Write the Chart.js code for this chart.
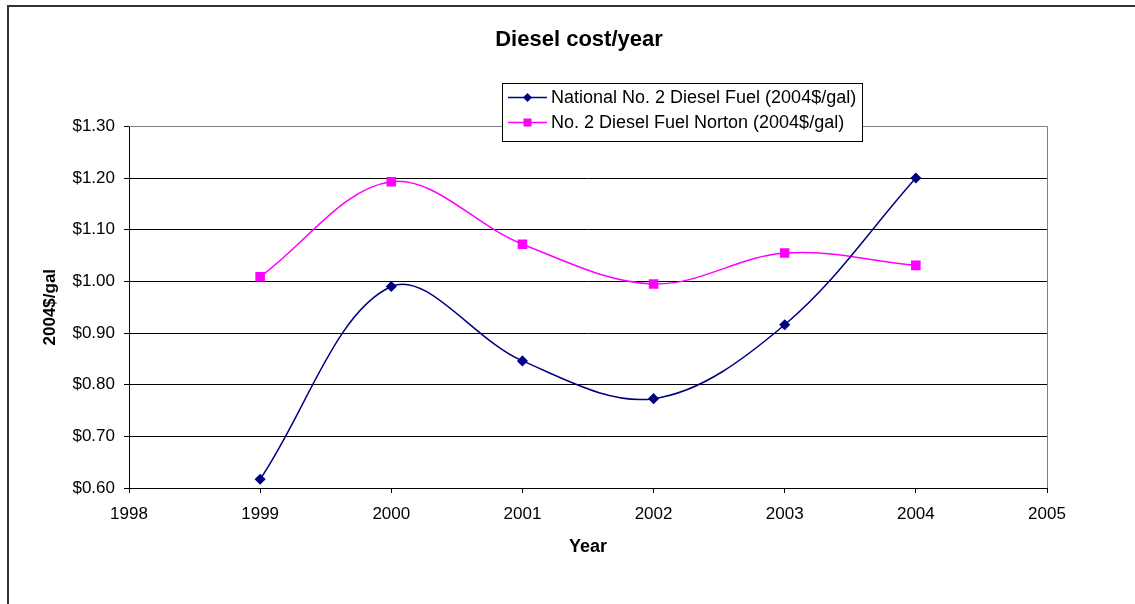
<!DOCTYPE html>
<html>
<head>
<meta charset="utf-8">
<script src="https://cdn.jsdelivr.net/npm/chart.js@4/dist/chart.umd.min.js"></script>
<style>
  html, body { margin: 0; padding: 0; background: #fff; }
  #wrap { width: 1135px; height: 604px; }
</style>
</head>
<body>
<div id="wrap"><canvas id="myChart" width="1135" height="604"></canvas></div>
<script>
// Данные графика
var years = [1999, 2000, 2001, 2002, 2003, 2004];
var nationalDiesel = [0.617, 0.990, 0.846, 0.773, 0.916, 1.200];
var nortonDiesel = [1.009, 1.193, 1.072, 0.995, 1.055, 1.031];
var seriesNames = ['National No. 2 Diesel Fuel (2004$/gal)', 'No. 2 Diesel Fuel Norton (2004$/gal)'];

function toPoints(values) {
  return years.map(function(year, i) { return { x: year, y: values[i] }; });
}

Chart.defaults.font.family = "'Liberation Sans', Arial, sans-serif";
Chart.defaults.color = '#000';

// Рамка вокруг области графика и рамка всей диаграммы
var framePlugin = {
  id: 'frame',
  beforeDraw: function(chart) {
    var ctx = chart.ctx;
    ctx.save();
    ctx.fillStyle = '#fff';
    ctx.fillRect(0, 0, chart.width, chart.height);
    ctx.strokeStyle = '#333';
    ctx.lineWidth = 2;
    ctx.beginPath();
    ctx.moveTo(8, chart.height);
    ctx.lineTo(8, 6);
    ctx.lineTo(chart.width, 6);
    ctx.stroke();
    ctx.restore();
  },
  beforeDatasetsDraw: function(chart) {
    var a = chart.chartArea;
    var ctx = chart.ctx;
    ctx.save();
    ctx.strokeStyle = '#808080';
    ctx.lineWidth = 1;
    ctx.beginPath();
    ctx.moveTo(a.left, Math.round(a.top) + 0.5);
    ctx.lineTo(Math.round(a.right) + 0.5, Math.round(a.top) + 0.5);
    ctx.lineTo(Math.round(a.right) + 0.5, a.bottom);
    ctx.stroke();
    ctx.restore();
  }
};

// Легенда в рамке поверх области графика
var boxLegendPlugin = {
  id: 'boxLegend',
  afterDraw: function(chart) {
    var ctx = chart.ctx;
    var box = { x: 502.5, y: 83.5, w: 360, h: 58 };
    ctx.save();
    ctx.fillStyle = '#fff';
    ctx.fillRect(box.x, box.y, box.w, box.h);
    ctx.strokeStyle = '#000';
    ctx.lineWidth = 1;
    ctx.strokeRect(box.x, box.y, box.w, box.h);
    var rows = [97.5, 122.5];
    chart.data.datasets.forEach(function(ds, i) {
      var y = rows[i];
      ctx.strokeStyle = ds.borderColor;
      ctx.lineWidth = 1.5;
      ctx.beginPath();
      ctx.moveTo(508, y);
      ctx.lineTo(547, y);
      ctx.stroke();
      ctx.fillStyle = ds.backgroundColor;
      var cx = 527.5;
      if (ds.pointStyle === 'rectRot') {
        ctx.beginPath();
        ctx.moveTo(cx, y - 4.5);
        ctx.lineTo(cx + 4.5, y);
        ctx.lineTo(cx, y + 4.5);
        ctx.lineTo(cx - 4.5, y);
        ctx.closePath();
        ctx.fill();
      } else {
        ctx.fillRect(cx - 4, y - 4, 8, 8);
      }
      ctx.fillStyle = '#000';
      ctx.font = "18px 'Liberation Sans', Arial, sans-serif";
      ctx.textBaseline = 'middle';
      ctx.textAlign = 'left';
      ctx.fillText(ds.label, 551, y + 1);
    });
    ctx.restore();
  }
};

var chartData = {
  datasets: [
    {
      label: seriesNames[0],
      data: toPoints(nationalDiesel),
      borderColor: '#000080',
      backgroundColor: '#000080',
      pointStyle: 'rectRot',
      pointRadius: 4.5,
      pointHoverRadius: 4.5,
      borderWidth: 1.5,
      tension: 0.35,
      fill: false
    },
    {
      label: seriesNames[1],
      data: toPoints(nortonDiesel),
      borderColor: '#FF00FF',
      backgroundColor: '#FF00FF',
      pointStyle: 'rect',
      pointRadius: 5.7,
      pointHoverRadius: 5.7,
      borderWidth: 1.5,
      tension: 0.35,
      fill: false
    }
  ]
};

var chartOptions = {
  responsive: false,
  animation: false,
  layout: { padding: { left: 23, right: 0, top: 0, bottom: 0 } },
  scales: {
    x: {
      type: 'linear',
      min: 1998,
      max: 2005,
      ticks: {
        stepSize: 1,
        padding: 11.5,
        font: { size: 17 },
        callback: function(value) { return String(value); }
      },
      grid: { drawOnChartArea: false, tickLength: 5, color: '#000' },
      border: { color: '#000', width: 1 },
      title: {
        display: true,
        text: 'Year',
        font: { size: 18, weight: 'bold' },
        padding: { top: 0, bottom: 46 }
      },
      afterFit: function(scale) { scale.height = 116; }
    },
    y: {
      min: 0.6,
      max: 1.3,
      ticks: {
        stepSize: 0.1,
        padding: 9,
        font: { size: 17 },
        callback: function(value) { return '$' + value.toFixed(2); }
      },
      grid: { color: '#000', tickLength: 5 },
      border: { color: '#000', width: 1 },
      title: {
        display: true,
        text: '2004$/gal',
        font: { size: 17, weight: 'bold' },
        padding: { top: 17, bottom: 0 }
      },
      afterFit: function(scale) { scale.width = 106; }
    },
    yRight: {
      position: 'right',
      display: true,
      ticks: { display: false },
      grid: { display: false },
      border: { display: false },
      afterFit: function(scale) { scale.width = 88; }
    }
  },
  plugins: {
    legend: { display: false },
    tooltip: { enabled: false },
    title: {
      display: true,
      text: 'Diesel cost/year',
      font: { size: 22, weight: 'bold' },
      color: '#000',
      padding: { top: 27, bottom: 73 }
    }
  }
};

var chart = new Chart(document.getElementById('myChart'), {
  type: 'line',
  data: chartData,
  options: chartOptions,
  plugins: [framePlugin, boxLegendPlugin]
});
</script>
</body>
</html>
